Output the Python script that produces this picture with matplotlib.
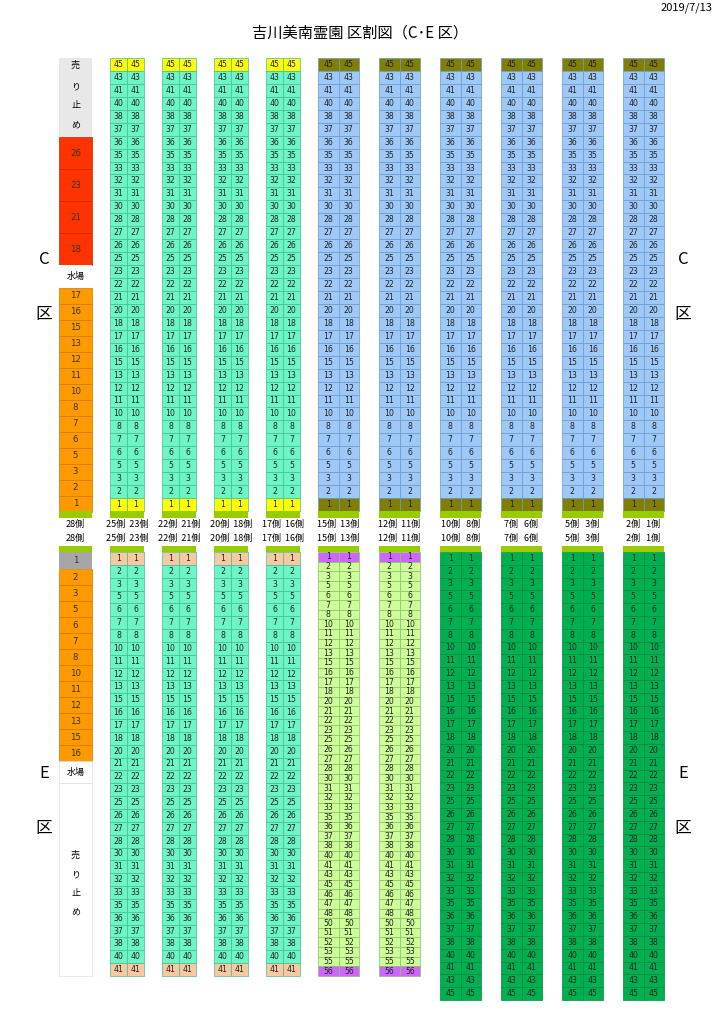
import matplotlib
matplotlib.use("Agg")
import matplotlib.pyplot as plt
from matplotlib.patches import Rectangle

plt.rcParams['font.family'] = ['Noto Sans CJK JP', 'DejaVu Sans']

title = "吉川美南霊園 区割図（C･E 区）"
date_text = "2019/7/13"
pair_labels = ["25側  23側", "22側  21側", "20側  18側", "17側  16側", "15側  13側",
               "12側  11側", "10側   8側", "7側   6側", "5側   3側", "2側   1側"]
left_label = "28側"

c_rows = [45, 43, 41, 40, 38, 37, 36, 35, 33, 32, 31, 30, 28, 27, 26, 25, 23, 22,
          21, 20, 18, 17, 16, 15, 13, 12, 11, 10, 8, 7, 6, 5, 3, 2, 1]
c_left_sold = ["売", "り", "止", "め"]
c_left_red = ["26", "23", "21", "18"]
c_left_orange = ["17", "16", "15", "13", "12", "11", "10", "8", "7", "6", "5", "3", "2", "1"]

e_rows_teal = [1, 2, 3, 5, 6, 7, 8, 10, 11, 12, 13, 15, 16, 17, 18, 20, 21, 22, 23,
               25, 26, 27, 28, 30, 31, 32, 33, 35, 36, 37, 38, 40, 41]
e_rows_light = [1, 2, 3, 5, 6, 7, 8, 10, 11, 12, 13, 15, 16, 17, 18, 20, 21, 22, 23,
                25, 26, 27, 28, 30, 31, 32, 33, 35, 36, 37, 38, 40, 41, 43, 45, 46,
                47, 48, 50, 51, 52, 53, 55, 56]
e_rows_dark = [1, 2, 3, 5, 6, 7, 8, 10, 11, 12, 13, 15, 16, 17, 18, 20, 21, 22, 23,
               25, 26, 27, 28, 30, 31, 32, 33, 35, 36, 37, 38, 40, 41, 43, 45]
e_left_orange = ["2", "3", "5", "6", "7", "8", "10", "11", "12", "13", "15", "16"]

# colours
TEAL, TEAL_E = '#6EF5C6', '#3FBF94'
BLUE, BLUE_E = '#9DC8F7', '#6A98C8'
LGREEN, LGREEN_E = '#CCFF99', '#90C060'
DGREEN, DGREEN_E = '#00B050', '#008A3C'
YELLOW, OLIVE, PEACH, PURPLE = '#FFFF00', '#807F00', '#F8C8A0', '#CC66FF'
BAR = '#99CC00'
ORANGE, RED, LGRAY, MGRAY = '#FF9900', '#FF3300', '#E8E8E8', '#A6A6A6'

fig = plt.figure(figsize=(7.24, 10.24), dpi=100)
ax = fig.add_axes([0, 0, 1, 1])
ax.set_xlim(0, 724)
ax.set_ylim(1024, 0)
ax.axis('off')

FS = 5.6
LFS = 6.2

def rect(x, y, w, h, fc, ec='none', lw=0.5):
    ax.add_patch(Rectangle((x, y), w, h, facecolor=fc, edgecolor=ec, linewidth=lw))

def pair_column(x, w, y0, y1, rows, fc, ec, end_colors, fs=FS):
    n = len(rows)
    h = (y1 - y0) / n
    for i, r in enumerate(rows):
        y = y0 + i * h
        c = fc
        if i == 0 and end_colors[0]:
            c = end_colors[0]
        if i == n - 1 and end_colors[1]:
            c = end_colors[1]
        for k in range(2):
            rect(x + k * w / 2, y, w / 2, h, c, ec, 0.5)
            ax.text(x + k * w / 2 + w / 4, y + h / 2, str(r), ha='center', va='center',
                    fontsize=fs, color='#222222', family=['DejaVu Sans'])

teal_x = [110, 162, 214, 266]
teal_w = 34
blue_x = [318, 379, 440, 501, 562, 623]
blue_w = 41

# ---------- C section ----------
C_TOP, C_BOT = 58, 511
for x in teal_x:
    pair_column(x, teal_w, C_TOP, C_BOT, c_rows, TEAL, TEAL_E, (YELLOW, YELLOW))
    rect(x, C_BOT, teal_w, 7, BAR)
for x in blue_x:
    pair_column(x, blue_w, C_TOP, C_BOT, c_rows, BLUE, BLUE_E, (OLIVE, OLIVE))
    rect(x, C_BOT, blue_w, 7, BAR)

LX, LW = 59, 33
rect(LX, 58, LW, 79, LGRAY)
for t, y in zip(c_left_sold, [65, 87, 106, 125]):
    ax.text(LX + LW / 2, y, t, ha='center', va='center', fontsize=6.5)
for i, t in enumerate(c_left_red):
    y = 137 + i * 32
    rect(LX, y, LW, 32, RED, '#CC2200')
    ax.text(LX + LW / 2, y + 16, t, ha='center', va='center', fontsize=LFS, color='#333333',
            family=['DejaVu Sans'])
rect(LX, 265, LW, 23, 'white')
ax.text(LX + LW / 2, 276.5, "水場", ha='center', va='center', fontsize=6.5)
for i, t in enumerate(c_left_orange):
    y = 288 + i * 16
    rect(LX, y, LW, 16, ORANGE, '#CC7A00')
    ax.text(LX + LW / 2, y + 8, t, ha='center', va='center', fontsize=LFS, color='#333333',
            family=['DejaVu Sans'])
rect(LX, C_BOT, LW, 7, BAR)

# labels between sections
ax.text(LX + LW / 2, 524, left_label, ha='center', va='center', fontsize=6.5)
ax.text(LX + LW / 2, 538, left_label, ha='center', va='center', fontsize=6.5)
all_x = [(x, teal_w) for x in teal_x] + [(x, blue_w) for x in blue_x]
for (x, w), lab in zip(all_x, pair_labels):
    ax.text(x + w / 2, 524, lab, ha='center', va='center', fontsize=6.5)
    ax.text(x + w / 2, 538, lab, ha='center', va='center', fontsize=6.5)

# ---------- E section ----------
E_TOP = 552
for x in teal_x:
    rect(x, 546, teal_w, 6, BAR)
    pair_column(x, teal_w, E_TOP, 976, e_rows_teal, TEAL, TEAL_E, (PEACH, PEACH))
for x in blue_x[:2]:
    rect(x, 546, blue_w, 6, BAR)
    pair_column(x, blue_w, E_TOP, 976, e_rows_light, LGREEN, LGREEN_E, (PURPLE, PURPLE))
for x in blue_x[2:]:
    rect(x, 546, blue_w, 6, BAR)
    pair_column(x, blue_w, E_TOP, 1000, e_rows_dark, DGREEN, DGREEN_E, (None, None))

rect(LX, 546, LW, 6, BAR)
rect(LX, 552, LW, 17, MGRAY)
ax.text(LX + LW / 2, 560.5, "1", ha='center', va='center', fontsize=LFS, color='#333333',
        family=['DejaVu Sans'])
for i, t in enumerate(e_left_orange):
    y = 569 + i * 16
    rect(LX, y, LW, 16, ORANGE, '#CC7A00')
    ax.text(LX + LW / 2, y + 8, t, ha='center', va='center', fontsize=LFS, color='#333333',
            family=['DejaVu Sans'])
rect(LX, 761, LW, 22, 'white', '#DDDDDD')
ax.text(LX + LW / 2, 772, "水場", ha='center', va='center', fontsize=6.5)
rect(LX, 783, LW, 193, 'white', '#DDDDDD')
for t, y in zip(c_left_sold, [855, 875, 894, 912]):
    ax.text(LX + LW / 2, y, t, ha='center', va='center', fontsize=6.5)

for xx in (44, 683):
    ax.text(xx, 260, "C", ha='center', va='center', fontsize=12)
    ax.text(xx, 315, "区", ha='center', va='center', fontsize=12)
    ax.text(xx, 773, "E", ha='center', va='center', fontsize=12)
    ax.text(xx, 828, "区", ha='center', va='center', fontsize=12)

ax.text(360, 33, title, ha='center', va='center', fontsize=11)
ax.text(712, 8, date_text, ha='right', va='center', fontsize=8)

fig.savefig("out.png", dpi=100)
